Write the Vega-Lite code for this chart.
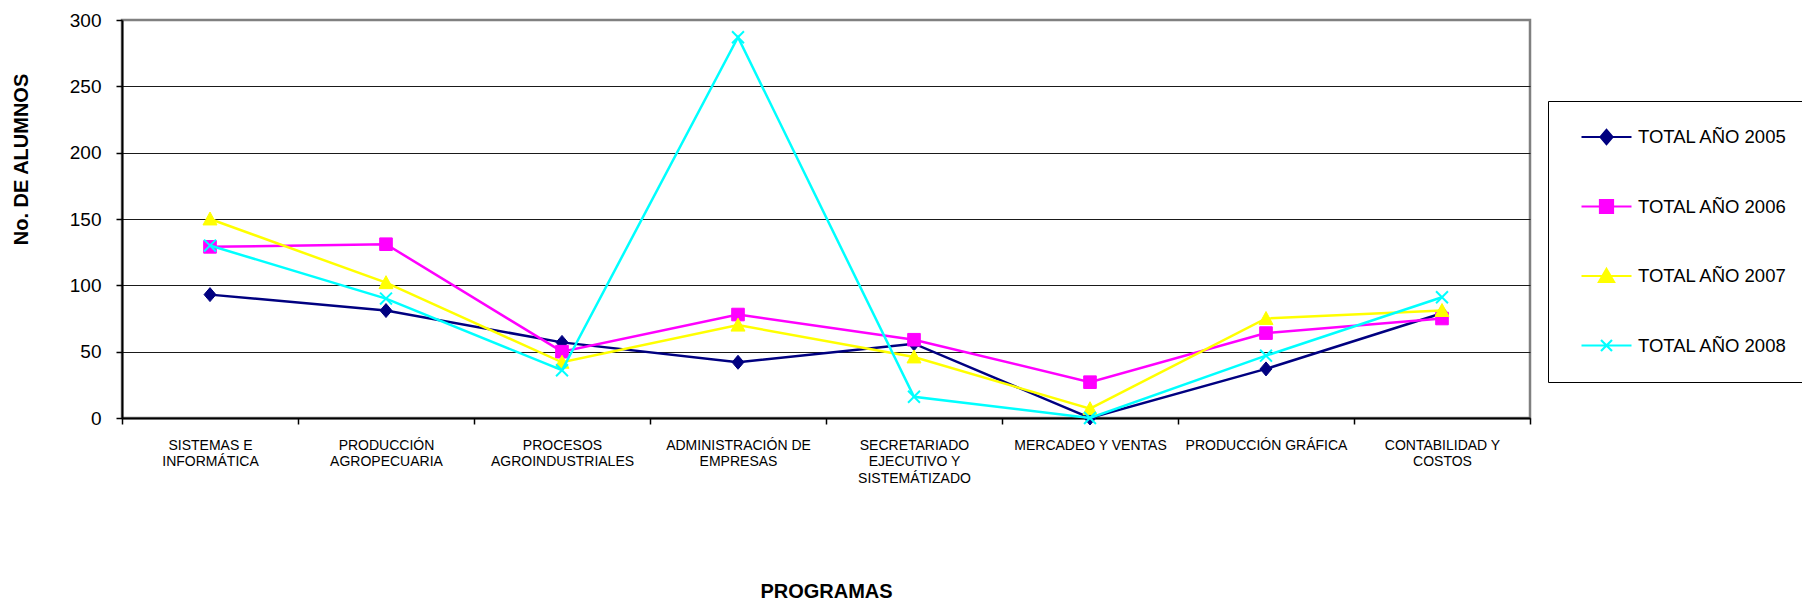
{
  "$schema": "https://vega.github.io/schema/vega-lite/v6.json",
  "width": 1408,
  "height": 398,
  "autosize": {"type": "none"},
  "padding": {"left": 122, "top": 20, "right": 272, "bottom": 183},
  "background": "white",
  "config": {
    "font": "Liberation Sans",
    "view": {"stroke": "#808080", "strokeWidth": 2.5},
    "axis": {"labelColor": "black", "titleColor": "black", "labelFont": "Liberation Sans", "titleFont": "Liberation Sans"},
    "legend": {"orient": "none", "legendX": 1426, "legendY": 81, "title": null, "strokeColor": "black", "fillColor": "white", "padding": 16,
      "labelFontSize": 18.5, "labelFont": "Liberation Sans", "labelColor": "black", "labelLimit": 400, "labelOffset": 5,
      "symbolSize": 2500, "symbolStrokeWidth": 2.2, "symbolOffset": 16, "rowPadding": 29.5, "clipHeight": 40}
  },
  "data": {
    "values": [
      {"programa": "SISTEMAS E\nINFORMÁTICA", "serie": "TOTAL AÑO 2005", "alumnos": 93},
      {"programa": "PRODUCCIÓN\nAGROPECUARIA", "serie": "TOTAL AÑO 2005", "alumnos": 81},
      {"programa": "PROCESOS\nAGROINDUSTRIALES", "serie": "TOTAL AÑO 2005", "alumnos": 57},
      {"programa": "ADMINISTRACIÓN DE\nEMPRESAS", "serie": "TOTAL AÑO 2005", "alumnos": 42},
      {"programa": "SECRETARIADO\nEJECUTIVO Y\nSISTEMÁTIZADO", "serie": "TOTAL AÑO 2005", "alumnos": 56},
      {"programa": "MERCADEO Y VENTAS", "serie": "TOTAL AÑO 2005", "alumnos": 0},
      {"programa": "PRODUCCIÓN GRÁFICA", "serie": "TOTAL AÑO 2005", "alumnos": 37},
      {"programa": "CONTABILIDAD Y\nCOSTOS", "serie": "TOTAL AÑO 2005", "alumnos": 79},
      {"programa": "SISTEMAS E\nINFORMÁTICA", "serie": "TOTAL AÑO 2006", "alumnos": 129},
      {"programa": "PRODUCCIÓN\nAGROPECUARIA", "serie": "TOTAL AÑO 2006", "alumnos": 131},
      {"programa": "PROCESOS\nAGROINDUSTRIALES", "serie": "TOTAL AÑO 2006", "alumnos": 50},
      {"programa": "ADMINISTRACIÓN DE\nEMPRESAS", "serie": "TOTAL AÑO 2006", "alumnos": 78},
      {"programa": "SECRETARIADO\nEJECUTIVO Y\nSISTEMÁTIZADO", "serie": "TOTAL AÑO 2006", "alumnos": 59},
      {"programa": "MERCADEO Y VENTAS", "serie": "TOTAL AÑO 2006", "alumnos": 27},
      {"programa": "PRODUCCIÓN GRÁFICA", "serie": "TOTAL AÑO 2006", "alumnos": 64},
      {"programa": "CONTABILIDAD Y\nCOSTOS", "serie": "TOTAL AÑO 2006", "alumnos": 75},
      {"programa": "SISTEMAS E\nINFORMÁTICA", "serie": "TOTAL AÑO 2007", "alumnos": 150},
      {"programa": "PRODUCCIÓN\nAGROPECUARIA", "serie": "TOTAL AÑO 2007", "alumnos": 102},
      {"programa": "PROCESOS\nAGROINDUSTRIALES", "serie": "TOTAL AÑO 2007", "alumnos": 42},
      {"programa": "ADMINISTRACIÓN DE\nEMPRESAS", "serie": "TOTAL AÑO 2007", "alumnos": 70},
      {"programa": "SECRETARIADO\nEJECUTIVO Y\nSISTEMÁTIZADO", "serie": "TOTAL AÑO 2007", "alumnos": 46},
      {"programa": "MERCADEO Y VENTAS", "serie": "TOTAL AÑO 2007", "alumnos": 7},
      {"programa": "PRODUCCIÓN GRÁFICA", "serie": "TOTAL AÑO 2007", "alumnos": 75},
      {"programa": "CONTABILIDAD Y\nCOSTOS", "serie": "TOTAL AÑO 2007", "alumnos": 81},
      {"programa": "SISTEMAS E\nINFORMÁTICA", "serie": "TOTAL AÑO 2008", "alumnos": 130},
      {"programa": "PRODUCCIÓN\nAGROPECUARIA", "serie": "TOTAL AÑO 2008", "alumnos": 90},
      {"programa": "PROCESOS\nAGROINDUSTRIALES", "serie": "TOTAL AÑO 2008", "alumnos": 36},
      {"programa": "ADMINISTRACIÓN DE\nEMPRESAS", "serie": "TOTAL AÑO 2008", "alumnos": 287},
      {"programa": "SECRETARIADO\nEJECUTIVO Y\nSISTEMÁTIZADO", "serie": "TOTAL AÑO 2008", "alumnos": 16},
      {"programa": "MERCADEO Y VENTAS", "serie": "TOTAL AÑO 2008", "alumnos": 0},
      {"programa": "PRODUCCIÓN GRÁFICA", "serie": "TOTAL AÑO 2008", "alumnos": 47},
      {"programa": "CONTABILIDAD Y\nCOSTOS", "serie": "TOTAL AÑO 2008", "alumnos": 91}
    ]
  },
  "encoding": {
    "x": {
      "field": "programa", "type": "nominal", "sort": null,
      "scale": {"type": "band", "paddingInner": 0, "paddingOuter": 0},
      "axis": {
        "title": "PROGRAMAS", "titleFontSize": 20, "titleFontWeight": "bold", "titleY": 173, "titleBaseline": "middle",
        "labelAngle": 0, "labelFontSize": 14, "labelLineHeight": 16.7, "labelPadding": 14, "labelBaseline": "top",
        "labelAlign": "center", "labelLimit": 0, "labelOverlap": false,
        "labelExpr": "split(datum.label, '\\n')",
        "tickBand": "extent", "tickSize": 6, "tickColor": "black", "tickWidth": 1.5,
        "domainColor": "black", "domainWidth": 2, "grid": false
      }
    },
    "y": {
      "field": "alumnos", "type": "quantitative",
      "scale": {"domain": [0, 300], "nice": false, "zero": true},
      "axis": {
        "values": [0, 50, 100, 150, 200, 250, 300],
        "title": "No. DE ALUMNOS", "titleFontSize": 20, "titleFontWeight": "bold", "titleAngle": 270,
        "titleX": -101, "titleY": 139, "titleAlign": "center", "titleBaseline": "middle",
        "labelFontSize": 19, "labelPadding": 15, "tickSize": 6, "tickColor": "black", "tickWidth": 1.5,
        "domainColor": "black", "domainWidth": 2,
        "grid": true, "gridColor": {"condition": {"test": "datum.value == 300", "value": "#808080"}, "value": "#1a1a1a"}, "gridWidth": 1.2
      }
    }
  },
  "layer": [
    {
      "transform": [{"filter": "datum.serie === 'TOTAL AÑO 2005'"}],
      "layer": [
        {"mark": {"type": "line", "stroke": "#000080", "strokeWidth": 2.5}, "encoding": {}},
        {"mark": {"type": "point", "filled": true, "fill": "#000080", "stroke": "#000080", "strokeWidth": 1, "opacity": 1, "size": 196, "shape": "M0,-1L0.85,0L0,1L-0.85,0Z"}}
      ]
    },
    {
      "transform": [{"filter": "datum.serie === 'TOTAL AÑO 2006'"}],
      "layer": [
        {"mark": {"type": "line", "stroke": "#FF00FF", "strokeWidth": 2.5}, "encoding": {}},
        {"mark": {"type": "point", "filled": true, "fill": "#FF00FF", "stroke": "#FF00FF", "strokeWidth": 1, "opacity": 1, "size": 196, "shape": "M-0.9,-0.9L0.9,-0.9L0.9,0.9L-0.9,0.9Z"}}
      ]
    },
    {
      "transform": [{"filter": "datum.serie === 'TOTAL AÑO 2007'"}],
      "layer": [
        {"mark": {"type": "line", "stroke": "#FFFF00", "strokeWidth": 2.5}, "encoding": {}},
        {"mark": {"type": "point", "filled": true, "fill": "#FFFF00", "stroke": "#FFFF00", "strokeWidth": 1, "opacity": 1, "size": 196, "shape": "M0,-1L1,0.85L-1,0.85Z"}}
      ]
    },
    {
      "transform": [{"filter": "datum.serie === 'TOTAL AÑO 2008'"}],
      "layer": [
        {"mark": {"type": "line", "stroke": "#00FFFF", "strokeWidth": 2.5}, "encoding": {}},
        {"mark": {"type": "point", "filled": false, "stroke": "#00FFFF", "strokeWidth": 2, "opacity": 1, "size": 196, "shape": "M-0.85,-0.85L0.85,0.85M-0.85,0.85L0.85,-0.85"}}
      ]
    },
    {
      "transform": [{"filter": "datum.alumnos < 0"}],
      "mark": {"type": "point", "filled": true, "strokeWidth": 2.2, "opacity": 1},
      "encoding": {
        "color": {"field": "serie", "type": "nominal",
          "scale": {"domain": ["TOTAL AÑO 2005", "TOTAL AÑO 2006", "TOTAL AÑO 2007", "TOTAL AÑO 2008"], "range": ["#000080", "#FF00FF", "#FFFF00", "#00FFFF"]},
          "legend": {"labelExpr": "datum.label + '      '"}},
        "stroke": {"field": "serie", "type": "nominal",
          "scale": {"domain": ["TOTAL AÑO 2005", "TOTAL AÑO 2006", "TOTAL AÑO 2007", "TOTAL AÑO 2008"], "range": ["#000080", "#FF00FF", "#FFFF00", "#00FFFF"]},
          "legend": {"labelExpr": "datum.label + '      '"}},
        "shape": {"field": "serie", "type": "nominal",
          "scale": {"domain": ["TOTAL AÑO 2005", "TOTAL AÑO 2006", "TOTAL AÑO 2007", "TOTAL AÑO 2008"],
            "range": [
              "M-1,0L1,0M0,-0.28L0.24,0L0,0.28L-0.24,0Z",
              "M-1,0L1,0M-0.26,-0.26L0.26,-0.26L0.26,0.26L-0.26,0.26Z",
              "M-1,0L1,0M0,-0.28L0.3,0.24L-0.3,0.24Z",
              "M-1,0L1,0M-0.22,-0.22L0.22,0.22M-0.22,0.22L0.22,-0.22"
            ]},
          "legend": {"labelExpr": "datum.label + '      '"}}
      }
    }
  ]
}
